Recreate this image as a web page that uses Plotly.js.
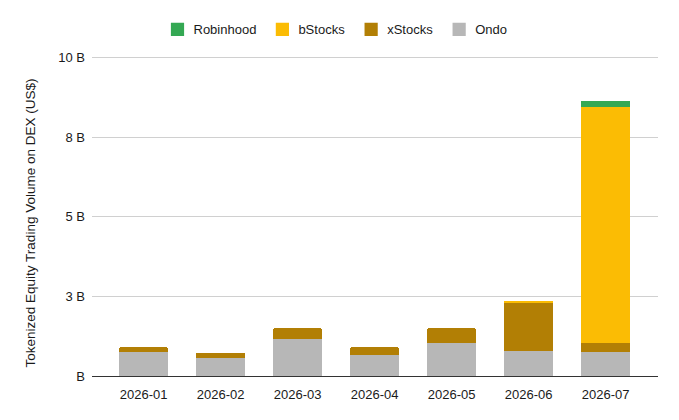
<!DOCTYPE html>
<html>
<head>
<meta charset="utf-8">
<script src="https://cdn.plot.ly/plotly-3.0.1.min.js"></script>
<style>html,body{margin:0;padding:0;background:#fff}</style>
</head>
<body>
<div id="chart" style="width:679px;height:420px"></div>
<script>
const months = ["2026-01", "2026-02", "2026-03", "2026-04", "2026-05", "2026-06", "2026-07"];
const ondo = [0.76, 0.575, 1.17, 0.65, 1.04, 0.79, 0.755];
const xStocks = [0.14, 0.145, 0.33, 0.25, 0.46, 1.5, 0.285];
const bStocks = [0, 0, 0, 0, 0, 0.07, 7.42];
const robinhood = [0, 0, 0, 0, 0, 0, 0.19];
const yTicks = [0, 2.5, 5, 7.5, 10];
const yTickLabels = ["B", "3 B", "5 B", "8 B", "10 B"];

const font = { family: "Liberation Sans, Arial, sans-serif", size: 13, color: "#1a1a1a" };

function bar(name, y, color) {
  return { type: "bar", name, x: months, y, marker: { color, line: { width: 0 } }, hoverinfo: "y+name" };
}

const data = [
  bar("Ondo", ondo, "#b7b7b7"),
  bar("xStocks", xStocks, "#b27f05"),
  bar("bStocks", bStocks, "#fbbc04"),
  bar("Robinhood", robinhood, "#34a853"),
];

const layout = {
  width: 679,
  height: 420,
  font,
  paper_bgcolor: "#fff",
  plot_bgcolor: "#fff",
  barmode: "stack",
  bargap: 0.355,
  barcornerradius: 2,
  margin: { t: 56.4, b: 44, l: 92, r: 21 },
  xaxis: {
    type: "category",
    range: [-0.67, 6.68],
    showgrid: false,
    showline: true,
    linecolor: "#333",
    linewidth: 1,
    ticks: "",
    ticklabelstandoff: 6,
  },
  yaxis: {
    // a hair above 10 so the top gridline is not clipped away
    range: [0, 10.05],
    tickvals: yTicks,
    ticktext: yTickLabels,
    gridcolor: "#d0d0d0",
    gridwidth: 1,
    zeroline: false,
    ticks: "",
    ticklabelstandoff: 6,
    title: { text: "Tokenized Equity Trading Volume on DEX (US$)", font: { ...font, size: 13.5 }, standoff: 19 },
  },
  legend: {
    orientation: "h",
    traceorder: "reversed",
    x: 0.5,
    xref: "container",
    xanchor: "center",
    y: 0.93,
    yref: "container",
    yanchor: "middle",
    font,
    itemclick: false,
    itemdoubleclick: false,
  },
};

Plotly.newPlot("chart", data, layout, { displayModeBar: false }).then((gd) => {
  // plotly's legend has no setting for the swatch gap, tighten it by hand
  gd.querySelectorAll(".legend .traces").forEach((item, i) => {
    const m = item.getAttribute("transform").match(/translate\(([-\d.]+),\s*([-\d.]+)\)/);
    item.setAttribute("transform", `translate(${+m[1] + 2 - i * 3},${m[2]})`);
    item.querySelector(".legendtext").setAttribute("x", 36);
    item.querySelector(".legendundefined, .legendpoints path")?.setAttribute("d", "M6.6,6.6H-6.6V-6.6H6.6Z");
  });
  // the title is rotated, so the shift down has to come before the rotation
  const title = gd.querySelector(".ytitle");
  if (title) title.setAttribute("transform", `translate(0,7) ${title.getAttribute("transform") || ""}`);
});
</script>
</body>
</html>
